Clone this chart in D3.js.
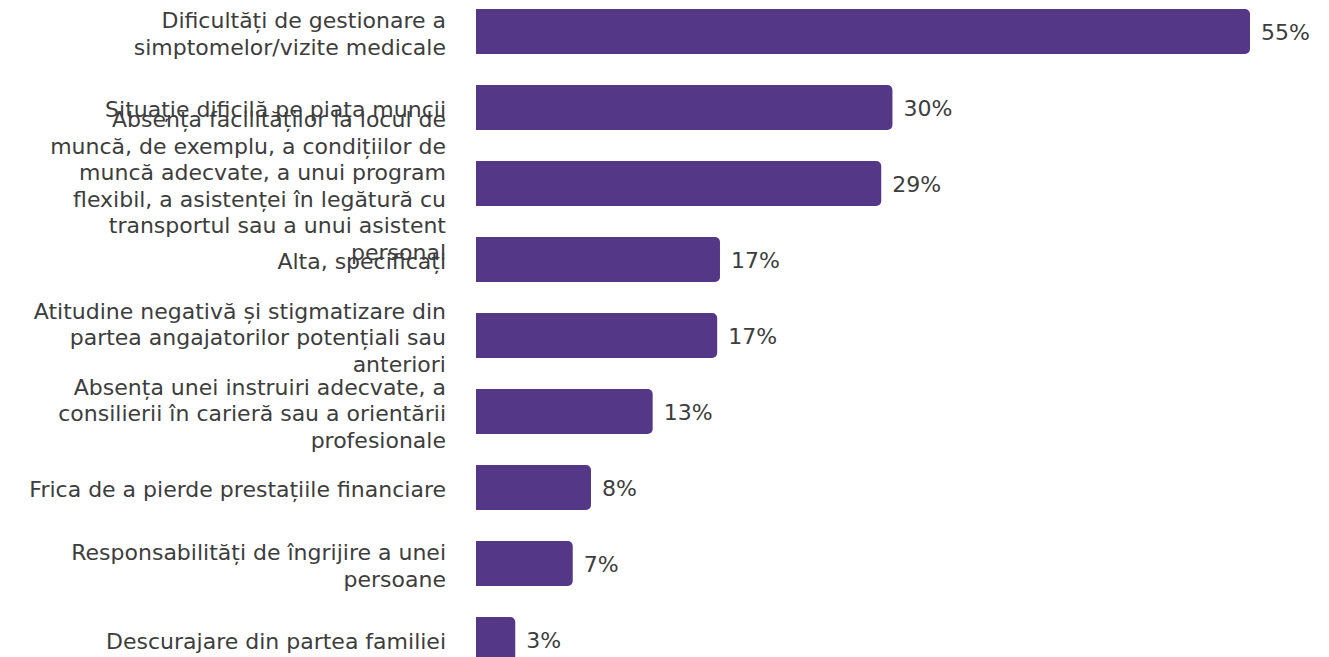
<!DOCTYPE html>
<html>
<head>
<meta charset="utf-8">
<script src="https://cdn.jsdelivr.net/npm/d3@7"></script>
<style>
  html, body { margin: 0; padding: 0; background: #ffffff; }
  svg { display: block; }
  text { font-family: "DejaVu Sans", Verdana, sans-serif; }
</style>
</head>
<body>
<svg id="chart" width="1329" height="657"></svg>
<script>
// Category labels, split into the lines shown in the chart
const categoryLines = [
  ["Dificultăți de gestionare a", "simptomelor/vizite medicale"],
  ["Situație dificilă pe piața muncii"],
  ["Absența facilităților la locul de", "muncă, de exemplu, a condițiilor de", "muncă adecvate, a unui program", "flexibil, a asistenței în legătură cu", "transportul sau a unui asistent", "personal"],
  ["Alta, specificați"],
  ["Atitudine negativă și stigmatizare din", "partea angajatorilor potențiali sau", "anteriori"],
  ["Absența unei instruiri adecvate, a", "consilierii în carieră sau a orientării", "profesionale"],
  ["Frica de a pierde prestațiile financiare"],
  ["Responsabilități de îngrijire a unei", "persoane"],
  ["Descurajare din partea familiei"]
];
const categories = categoryLines.map(l => l.join(" "));
// Shares (%)
const values = [55.2, 29.7, 28.9, 17.4, 17.2, 12.6, 8.2, 6.9, 2.8];
// Value labels as printed
const valueLabels = ["55%", "30%", "29%", "17%", "17%", "13%", "8%", "7%", "3%"];

const data = categories.map((c, i) => ({ cat: c, lines: categoryLines[i], value: values[i], label: valueLabels[i] }));

const svg = d3.select("#chart");
const barColor = "#553788";
const textColor = "#3d3d3d";
const fontSize = 22;
const lineH = 26.5;

const x = d3.scaleLinear().domain([0, 55.2]).range([476, 1250]);
const y = d3.scaleBand().domain(categories).range([-6.5, 677.5]).paddingInner(0.408).paddingOuter(0.204);

const r = 5;
function barPath(d) {
  const x0 = x(0), x1 = x(d.value), y0 = y(d.cat), h = y.bandwidth();
  const rr = Math.min(r, (x1 - x0) / 2);
  return `M${x0},${y0}H${x1 - rr}A${rr},${rr} 0 0 1 ${x1},${y0 + rr}V${y0 + h - rr}A${rr},${rr} 0 0 1 ${x1 - rr},${y0 + h}H${x0}Z`;
}

svg.append("g").selectAll("path").data(data).join("path")
  .attr("d", barPath)
  .attr("fill", barColor);

svg.append("g").selectAll("text").data(data).join("text")
  .attr("x", d => x(d.value) + 11)
  .attr("y", d => y(d.cat) + y.bandwidth() / 2)
  .attr("dy", "0.38em")
  .attr("fill", textColor)
  .attr("font-size", fontSize)
  .text(d => d.label);

const lab = svg.append("g").selectAll("text").data(data).join("text")
  .attr("text-anchor", "end")
  .attr("fill", textColor)
  .attr("font-size", fontSize);

lab.each(function(d) {
  const cy = y(d.cat) + y.bandwidth() / 2;
  const n = d.lines.length;
  d3.select(this).selectAll("tspan").data(d.lines).join("tspan")
    .attr("x", 446)
    .attr("y", (t, i) => cy + (i - (n - 1) / 2) * lineH)
    .attr("dy", "0.45em")
    .text(t => t);
});
</script>
</body>
</html>
